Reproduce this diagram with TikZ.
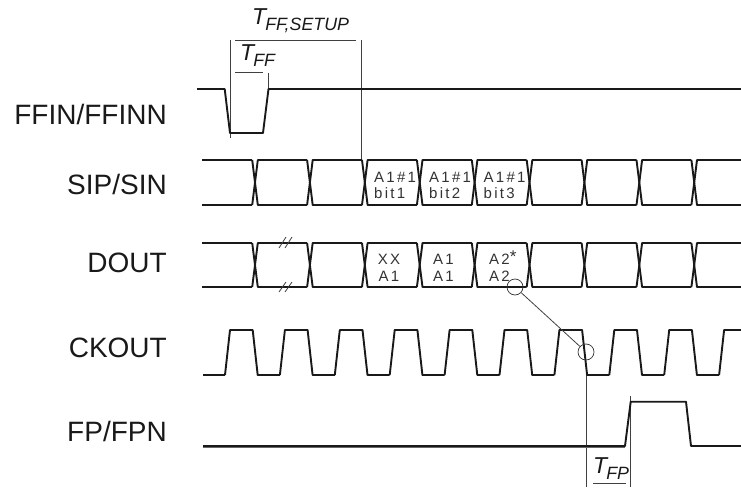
\documentclass[tikz,border=0pt]{standalone}
\usepackage{fontspec}
\setmainfont{Liberation Sans}
\newfontfamily\bitfont[LetterSpace=15]{Liberation Sans}
\usepackage{tikz}
\usetikzlibrary{positioning}
\newcommand{\tlabel}[1]{{\itshape\fontsize{23}{23}\selectfont T\kern-1pt\raisebox{-6.5pt}{\fontsize{17.8}{18}\selectfont #1}}}
\tikzset{
  sig/.style={line width=1.9pt, black!90, line join=round},
  tline/.style={line width=0.8pt, black!75},
  signame/.style={anchor=base east, inner sep=0pt, text=black!90, font=\fontsize{28}{28}\selectfont},
  bit/.style={anchor=base west, inner sep=0pt, text=black!80, font=\bitfont\fontsize{15}{15}\selectfont},
  bitc/.style={anchor=base, inner sep=0pt, text=black!80, font=\bitfont\fontsize{15}{15}\selectfont},
  tname/.style={anchor=base west, inner sep=0pt, text=black!90},
  ring/.style={circle, draw, line width=0.7pt, black!80, minimum size=16pt, inner sep=0pt}
}

\begin{document}
\begin{tikzpicture}[x=1pt,y=-1pt]
        \useasboundingbox (0,0) rectangle (741,487);
        % Nama sinyal
        \node[signame] (ffin) at (167,124) {FFIN/FFINN};
        \node[signame] (sip) at (167,194) {SIP/SIN};
        \node[signame] (dout) at (167,272) {DOUT};
        \node[signame] (ckout) at (167,357) {CKOUT};
        \node[signame] (fp) at (167,441) {FP/FPN};
        % Garis waktu
        \draw[tline] (230,40) -- (230,138);
        \draw[tline] (361.5,40) -- (361.5,160);
        \draw[tline] (235,40) -- (356,40);
        \draw[tline] (235,72.5) -- (263,72.5);
        \draw[tline] (268,72.5) -- (268,89);
        \draw[tline] (586.7,375) -- (586.7,487);
        \draw[tline] (630.7,396) -- (630.7,487);
        \draw[tline] (593,483) -- (626,483);
        \node[tname] (tsetup) at (252,24.5) {\tlabel{FF,SETUP}};
        \node[tname] (tff) at (240,60) {\tlabel{FF}};
        \node[tname] (tfp) at (593,473) {\tlabel{FP}};
        % FFIN
        \draw[sig] (197,89) -- (224.7,89) -- (230,133) -- (263,133) -- (268.5,89) -- (741,89);
        % SIP dan DOUT
        \foreach \yt/\yb in {160/205,243/287} {
          \draw[sig] (202,\yt) -- (252.2,\yt);
          \draw[sig] (202,\yb) -- (252.2,\yb);
          \foreach \k in {0,...,8} {
            \pgfmathsetmacro{\cx}{255+54.9*\k}
            \pgfmathsetmacro{\nx}{min(\cx+52.1,741)}
            \draw[sig] (\cx-2.8,\yt) -- (\cx+2.8,\yb) -- (\nx,\yb);
            \draw[sig] (\cx-2.8,\yb) -- (\cx+2.8,\yt) -- (\nx,\yt);
          }
        }
        % Tanda putus
        \foreach \dx in {0,6} {
          \draw[tline] (279+\dx,248) -- (286+\dx,237);
          \draw[tline] (279+\dx,292) -- (286+\dx,282);
        }
        % Isi bit
        \node[bit] (bita) at (374,182) {A1\#1};
        \node[bit] (bitb) at (429,182) {A1\#1};
        \node[bit] (bitc) at (483.5,182) {A1\#1};
        \node[bit] (numa) at (374,198) {bit1};
        \node[bit] (numb) at (429,198) {bit2};
        \node[bit] (numc) at (483.5,198) {bit3};
        \node[bitc] (outa) at (389,264.5) {XX};
        \node[bitc] (outb) at (389,281) {A1};
        \node[bitc] (outc) at (443.5,264.5) {A1};
        \node[bitc] (outd) at (443.5,281) {A1};
        \node[bit] (oute) at (489,264.5) {A2\raisebox{2pt}{\fontsize{17}{17}\selectfont *}};
        \node[bit] (outf) at (489,281) {A2};
        % CKOUT
        \draw[sig] (203,375) -- (225,375);
        \foreach \k in {0,...,9} {
          \pgfmathsetmacro{\cx}{225+54.9*\k}
          \pgfmathsetmacro{\nx}{min(\cx+27.7,741)}
          \ifnum\k<9
            \draw[sig] (\cx,375) -- (\cx+5,330) -- (\nx,330) -- (\nx+5,375) -- (\cx+54.9,375);
          \else
            \draw[sig] (\cx,375) -- (\cx+5,330) -- (\nx,330);
          \fi
        }
        % FP
        \draw[line width=1.9pt, black!60] (203,447.5) -- (625,447.5);
        \draw[sig] (203,446) -- (625,446) -- (630.7,401.7) -- (686,401.7) -- (691,446) -- (741,446);
        % Penanda tepi
        \node[ring] (edgedout) at (515,287) {};
        \node[ring] (edgeck) at (586,352) {};
        \draw[tline] (edgedout) -- (edgeck);
      \end{tikzpicture}
\end{document}
